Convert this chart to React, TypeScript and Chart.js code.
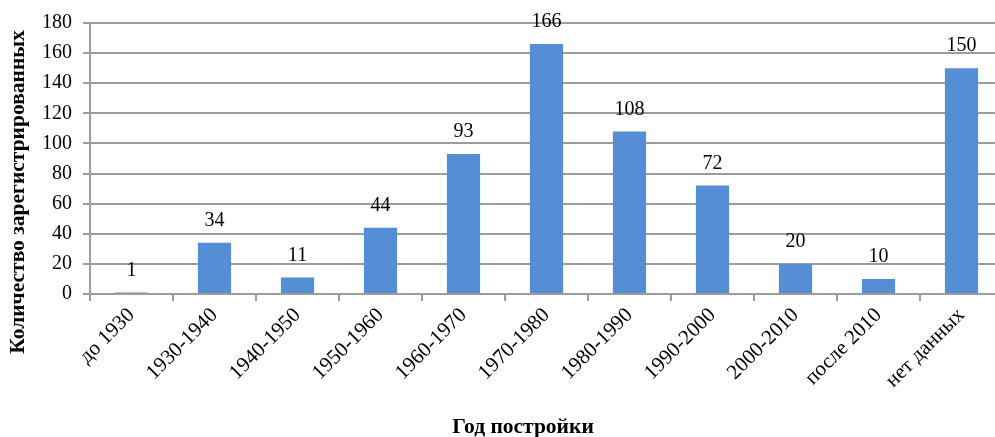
import React, { useEffect, useRef } from "react";
import { Chart, registerables } from "chart.js";

Chart.register(...registerables);

const categories = [
  "до 1930",
  "1930-1940",
  "1940-1950",
  "1950-1960",
  "1960-1970",
  "1970-1980",
  "1980-1990",
  "1990-2000",
  "2000-2010",
  "после 2010",
  "нет данных",
];
const counts = [1, 34, 11, 44, 93, 166, 108, 72, 20, 10, 150];
const yTicks = [0, 20, 40, 60, 80, 100, 120, 140, 160, 180];

const yTitle = "Количество зарегистрированных";
const xTitle = "Год постройки";

const SERIF = "'Liberation Serif', 'Times New Roman', serif";
const GRID = "#9c9c9c";
const BAR = "#558ed5";

// Value labels above each bar and the two axis titles
const annotate = {
  id: "annotate",
  afterDatasetsDraw(chart: any) {
    const ctx = chart.ctx;
    const meta = chart.getDatasetMeta(0);
    ctx.save();
    ctx.fillStyle = "#000";
    ctx.font = `20px ${SERIF}`;
    ctx.textAlign = "center";
    ctx.textBaseline = "middle";
    meta.data.forEach((bar: any, i: number) => {
      ctx.fillText(String(counts[i]), bar.x, bar.y - 22);
    });

    ctx.font = `bold 21.5px ${SERIF}`;
    ctx.textBaseline = "middle";
    ctx.fillText(xTitle, 523, 427);

    ctx.translate(18, 192);
    ctx.rotate(-Math.PI / 2);
    ctx.fillText(yTitle, 0, 0);
    ctx.restore();
  },
};

export default function App() {
  const ref = useRef<HTMLCanvasElement | null>(null);

  useEffect(() => {
    if (!ref.current) return;
    const chart = new Chart(ref.current, {
      type: "bar",
      data: {
        labels: categories,
        datasets: [
          {
            data: counts,
            backgroundColor: BAR,
            borderWidth: 0,
            categoryPercentage: 1,
            barPercentage: 0.4,
          },
        ],
      },
      options: {
        animation: false,
        responsive: true,
        maintainAspectRatio: false,
        layout: { padding: { left: 31, top: 4, right: 1, bottom: 42 } },
        plugins: {
          legend: { display: false },
          tooltip: { enabled: false },
        },
        scales: {
          x: {
            grid: {
              display: true,
              offset: true,
              drawOnChartArea: false,
              drawTicks: true,
              tickLength: 7,
              color: GRID,
              lineWidth: 2,
            },
            border: { display: true, color: GRID, width: 2 },
            ticks: {
              color: "#000",
              font: { family: SERIF, size: 21 },
              minRotation: 45,
              maxRotation: 45,
              padding: 2,
              autoSkip: false,
            },
          },
          y: {
            min: 0,
            max: 180,
            afterBuildTicks(scale: any) {
              scale.ticks = yTicks.map((v) => ({ value: v }));
            },
            grid: {
              color: GRID,
              lineWidth: 2,
              tickLength: 7,
            },
            border: { display: true, color: GRID, width: 2 },
            ticks: {
              color: "#000",
              font: { family: SERIF, size: 20 },
              padding: 11,
            },
          },
        },
      },
      plugins: [annotate],
    });
    return () => chart.destroy();
  }, []);

  return (
    <div style={{ position: "fixed", left: 0, top: 0, width: 1004, height: 437 }}>
      <canvas ref={ref} />
    </div>
  );
}
